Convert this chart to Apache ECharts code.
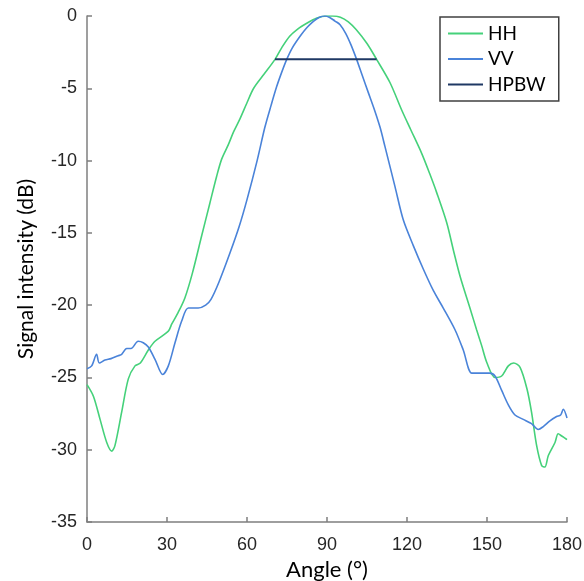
<!DOCTYPE html>
<html>
<head>
<meta charset="utf-8">
<script src="https://cdn.jsdelivr.net/npm/echarts@6/dist/echarts.min.js"></script>
<style>html,body{margin:0;padding:0;background:#fff}#c{width:584px;height:581px}</style>
</head>
<body>
<div id="c"></div>
<script>
const xTicks = [0, 30, 60, 90, 120, 150, 180];
const yTicks = [-35, -30, -25, -20, -15, -10, -5, 0];

const hhAngle = [0,2.4,4.9,7.4,9.3,10.5,13,15.5,18,20,23,25.5,30.5,31.8,34.2,36.7,39.5,43,46,48.6,50.5,53,55,57.4,60,62.5,66.5,70.5,73,76,79,82.4,86,89.9,92,95,98,101,105,108.6,113.6,118,121.5,125.5,128.5,131.1,134.9,137.4,139.9,143.6,146.1,148,150,153,155.5,158,160,162.4,165,166.7,168.6,170.5,171.7,173,175.5,176.7,178,179.2,180];
const hhDb = [-25.5,-26.3,-27.9,-29.5,-30.1,-29.7,-27.4,-25.1,-24.2,-24.0,-23.1,-22.5,-21.8,-21.3,-20.5,-19.5,-17.8,-15.2,-13.0,-11.1,-9.9,-8.9,-8.0,-7.1,-6.0,-5.0,-4.0,-3.0,-2.2,-1.4,-0.9,-0.5,-0.15,0,0,-0.08,-0.4,-0.95,-1.9,-3.0,-4.6,-6.5,-7.9,-9.5,-10.9,-12.2,-14.3,-16.2,-18.0,-20.2,-21.7,-22.8,-24.0,-25.0,-24.9,-24.2,-24.0,-24.3,-25.8,-27.4,-29.7,-31.1,-31.2,-30.4,-29.5,-28.9,-29.05,-29.2,-29.3];

const vvAngle = [0,1.75,3.6,4.6,6.75,9,11.7,13,14.9,16.5,19.2,21.1,23,25.5,28.4,30.5,33,35.5,38,41.7,44.5,46.5,49.5,53.6,57,60,63.8,66.7,69,71.1,73,74.9,77,79.9,82.5,84.9,87,89.2,91,93,94.9,97,99,101.1,103.2,105.5,108,109.9,111.7,115.5,118.6,122.4,126.1,129.9,133.6,138,141.1,144.3,147.4,151,153,155.5,158,160.5,163.6,166.7,169.2,171.1,173.6,176.1,177.6,178.6,180];
const vvDb = [-24.4,-24.2,-23.4,-24.0,-23.8,-23.7,-23.5,-23.4,-23.0,-23.0,-22.5,-22.6,-22.9,-23.75,-24.8,-24.2,-22.6,-21.1,-20.2,-20.2,-20.0,-19.6,-18.4,-16.4,-14.6,-12.7,-10.0,-7.7,-6.2,-4.9,-3.9,-3.0,-2.2,-1.4,-0.8,-0.37,-0.1,0,-0.1,-0.35,-0.6,-1.2,-2.0,-3.0,-4.1,-5.3,-6.6,-7.7,-9.0,-11.8,-14.1,-15.9,-17.5,-19.0,-20.2,-21.7,-23.1,-24.7,-24.7,-24.7,-24.9,-25.9,-26.9,-27.6,-27.9,-28.2,-28.6,-28.4,-28.0,-27.7,-27.6,-27.2,-27.8];

const hpbwAngle = [70.5, 108.6];
const hpbwDb = [-3.0, -3.0];

const zip = (a, b) => a.map((v, i) => [v, b[i]]);

const axisCommon = {
  axisLine: { show: true, onZero: false, lineStyle: { color: '#7f7f7f', width: 1.5 } },
  axisTick: { show: true, inside: true, length: 5, lineStyle: { color: '#7f7f7f', width: 1.5 } },
  splitLine: { show: false },
  axisLabel: { color: '#262626', fontSize: 18, fontFamily: 'Liberation Sans' },
  nameTextStyle: { color: '#000', fontSize: 21, fontFamily: 'Lato' }
};

const chart = echarts.init(document.getElementById('c'), null, { renderer: 'canvas' });
chart.setOption({
  animation: false,
  backgroundColor: '#fff',
  grid: { left: 87, right: 17, top: 16, bottom: 59, containLabel: false, outerBoundsMode: 'none' },
  xAxis: Object.assign({}, axisCommon, {
    type: 'value', min: 0, max: 180, interval: 30,
    name: 'Angle (°)', nameLocation: 'middle', nameGap: 32,
    nameTextStyle: Object.assign({}, axisCommon.nameTextStyle, { fontSize: 22 }),
    axisLabel: Object.assign({}, axisCommon.axisLabel, { margin: 14 })
  }),
  yAxis: Object.assign({}, axisCommon, {
    type: 'value', min: -35, max: 0, interval: 5,
    name: 'Signal intensity (dB)', nameLocation: 'middle', nameGap: 50,
    axisLabel: Object.assign({}, axisCommon.axisLabel, { margin: 10 })
  }),
  legend: {
    orient: 'vertical', left: 440, top: 17,
    padding: [7, 13, 7, 8],
    borderColor: '#404040', borderWidth: 1.5,
    itemWidth: 35, itemHeight: 2, itemGap: 6.5,
    icon: 'rect',
    textStyle: { color: '#000', fontSize: 19, fontFamily: 'Lato' },
    data: ['HH', 'VV', 'HPBW']
  },
  series: [
    { name: 'HH', type: 'line', data: zip(hhAngle, hhDb), showSymbol: false, smooth: 0.3,
      lineStyle: { color: '#45d17a', width: 1.6 }, itemStyle: { color: '#45d17a' } },
    { name: 'VV', type: 'line', data: zip(vvAngle, vvDb), showSymbol: false, smooth: 0.3,
      lineStyle: { color: '#4a83d9', width: 1.6 }, itemStyle: { color: '#4a83d9' } },
    { name: 'HPBW', type: 'line', data: zip(hpbwAngle, hpbwDb), showSymbol: false,
      lineStyle: { color: '#1f3864', width: 2 }, itemStyle: { color: '#1f3864' } }
  ]
});
</script>
</body>
</html>
